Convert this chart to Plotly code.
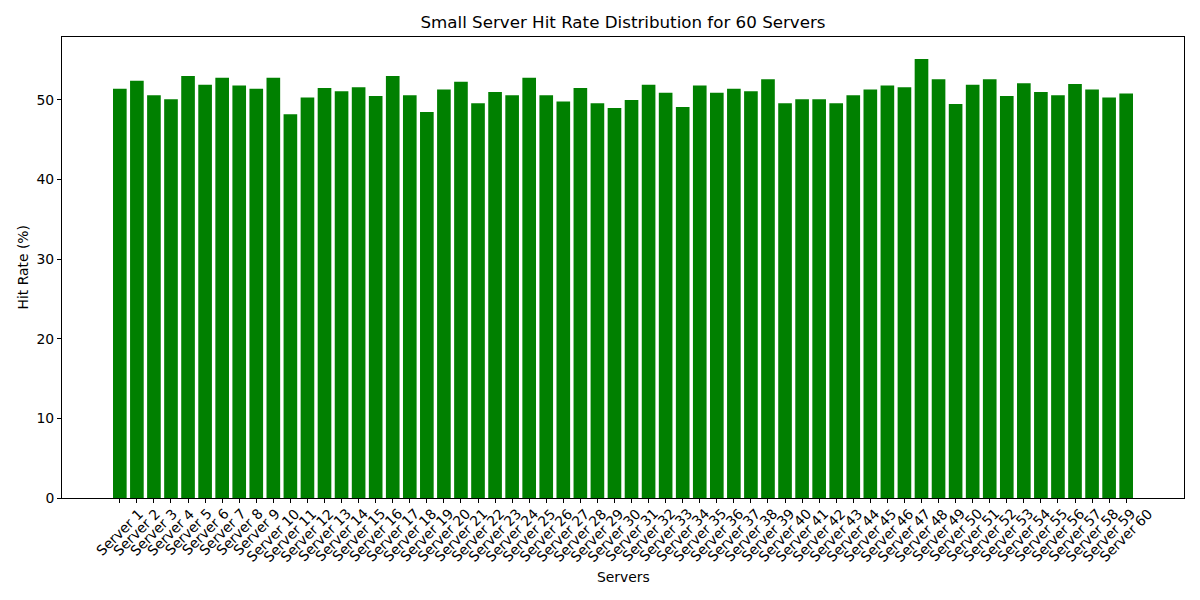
import plotly.graph_objects as go

servers = [f"Server {i}" for i in range(1, 61)]
hit_rates = [
    51.4, 52.4, 50.6, 50.1, 53.0, 51.9, 52.8, 51.8, 51.4, 52.8,
    48.2, 50.3, 51.5, 51.1, 51.6, 50.5, 53.0, 50.6, 48.5, 51.3,
    52.3, 49.6, 51.0, 50.6, 52.8, 50.6, 49.8, 51.5, 49.6, 49.0,
    50.0, 51.9, 50.9, 49.1, 51.8, 50.9, 51.4, 51.1, 52.6, 49.6,
    50.1, 50.1, 49.6, 50.6, 51.3, 51.8, 51.6, 55.15, 52.6, 49.5,
    51.9, 52.6, 50.5, 52.1, 51.0, 50.6, 52.0, 51.3, 50.3, 50.8,
]
y_ticks = [0, 10, 20, 30, 40, 50]

FONT = "DejaVu Sans"
TICK_PX = 13.9

fig = go.Figure(
    go.Bar(
        x=list(range(len(servers))),
        y=hit_rates,
        width=0.8,
        marker=dict(color="#008000", line=dict(width=0)),
        hoverinfo="skip",
    )
)

n = len(servers)
pad = 0.05 * (n - 1 + 0.8)
ymax = max(hit_rates) * 1.05

annotations = []
for i, s in enumerate(servers):
    annotations.append(dict(
        x=i, y=0, xref="x", yref="paper",
        text=s, showarrow=False, textangle=-45,
        xanchor="center", yanchor="top", yshift=-6, borderpad=0,
        font=dict(family=FONT, size=TICK_PX, color="black"),
    ))
annotations.append(dict(
    x=0.5, y=0, xref="paper", yref="paper", text="Servers",
    showarrow=False, xanchor="center", yanchor="top", yshift=-70, borderpad=0,
    font=dict(family=FONT, size=TICK_PX, color="black"),
))
annotations.append(dict(
    x=0, y=0.5, xref="paper", yref="paper", text="Hit Rate (%)",
    showarrow=False, textangle=-90, xanchor="center", yanchor="middle",
    xshift=-40, borderpad=0,
    font=dict(family=FONT, size=TICK_PX, color="black"),
))

fig.update_layout(
    width=1192, height=592,
    margin=dict(l=54, r=16, t=29, b=102),
    paper_bgcolor="white", plot_bgcolor="white",
    showlegend=False,
    font=dict(family=FONT, size=TICK_PX, color="black"),
    title=dict(
        text="Small Server Hit Rate Distribution for 60 Servers",
        x=0.5, xref="paper", xanchor="center",
        y=1 - 14 / 592, yref="container", yanchor="middle",
        font=dict(family=FONT, size=16.7, color="black"),
    ),
    xaxis=dict(
        range=[-0.4 - pad, n - 1 + 0.4 + pad],
        tickmode="array", tickvals=list(range(n)), ticktext=[""] * n,
        showticklabels=False,
        ticks="outside", ticklen=4, tickwidth=1, tickcolor="black",
        showline=True, linecolor="black", linewidth=1, mirror=True,
        showgrid=False, zeroline=False,
    ),
    yaxis=dict(
        range=[0, ymax],
        tickmode="array", tickvals=y_ticks,
        ticks="outside", ticklen=4, tickwidth=1, tickcolor="black",
        tickfont=dict(family=FONT, size=TICK_PX, color="black"),
        showline=True, linecolor="black", linewidth=1, mirror=True,
        showgrid=False, zeroline=False,
    ),
    annotations=annotations,
)

fig.write_html("out.html")
